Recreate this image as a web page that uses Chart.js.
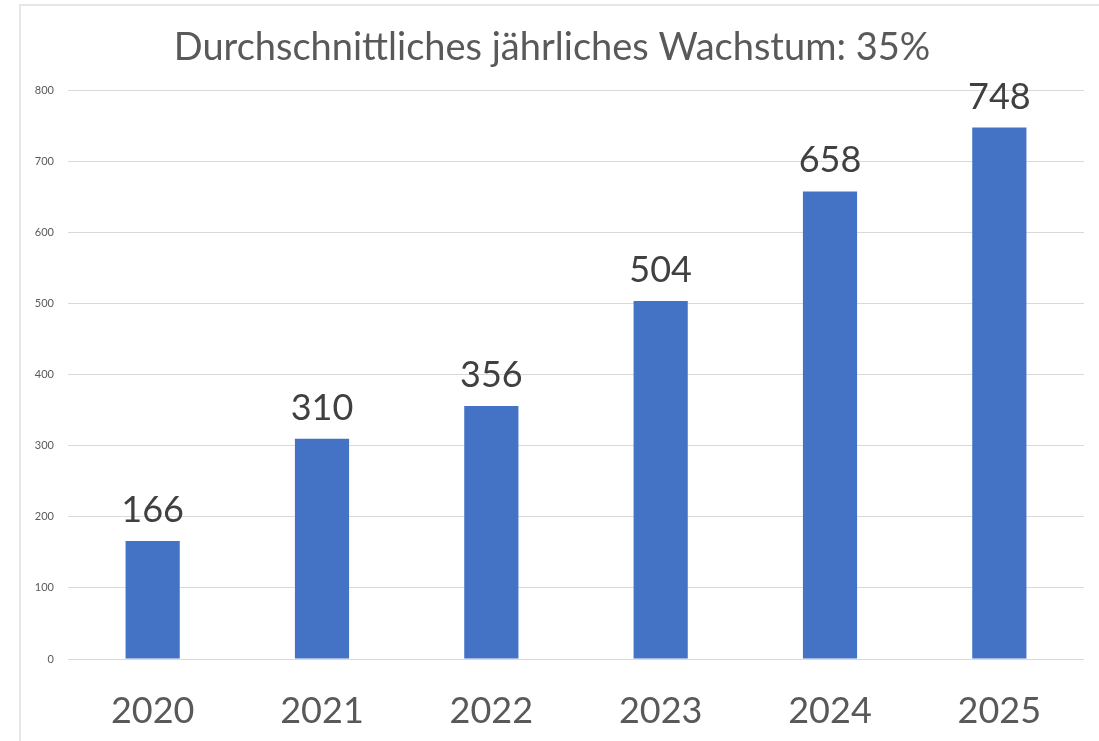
<!DOCTYPE html>
<html>
<head>
<meta charset="utf-8">
<script src="https://cdn.jsdelivr.net/npm/chart.js@4.4.1/dist/chart.umd.min.js"></script>
<style>
    html, body { margin: 0; padding: 0; background: #ffffff; }
    #wrap { position: relative; width: 1099px; height: 741px; overflow: hidden; }
    #frame {
        position: absolute; left: 19px; top: 4px; width: 1090px; height: 760px;
        border: 2px solid #e6e6e6; box-sizing: border-box;
    }
    canvas { position: absolute; left: 0; top: 0; }
</style>
</head>
<body>
<div id="wrap">
    <div id="frame"></div>
    <canvas id="myBarChart" width="1099" height="741"></canvas>
</div>
<script>
// Daten
const titleText = 'Durchschnittliches jährliches Wachstum: 35%';
const years = ['2020', '2021', '2022', '2023', '2024', '2025'];
const values = [166, 310, 356, 504, 658, 748];
const yTicks = [0, 100, 200, 300, 400, 500, 600, 700, 800];

const fontFamily = 'Lato, "Open Sans", sans-serif';

// Werte über den Balken schreiben
const valueLabels = {
    id: 'valueLabels',
    afterDatasetsDraw(chart) {
        const ctx = chart.ctx;
        const meta = chart.getDatasetMeta(0);
        ctx.save();
        ctx.font = '36px ' + fontFamily;
        ctx.fillStyle = '#404040';
        ctx.textAlign = 'center';
        ctx.textBaseline = 'alphabetic';
        meta.data.forEach((bar, i) => {
            ctx.fillText(String(values[i]), bar.x, bar.y - 19);
        });
        ctx.restore();
    }
};

const ctxBar = document.getElementById('myBarChart').getContext('2d');
let myBarChart = new Chart(ctxBar, {
    type: 'bar',
    data: {
        labels: years,
        datasets: [{
            label: 'Wachstum',
            data: values,
            backgroundColor: '#4472C4',
            borderWidth: 0,
            barPercentage: 0.32,
            categoryPercentage: 1
        }]
    },
    options: {
        responsive: false,
        animation: false,
        layout: {
            padding: { left: 20, right: 15, top: 0, bottom: 8 }
        },
        scales: {
            y: {
                min: 0,
                max: 800,
                afterBuildTicks: axis => {
                    axis.ticks = yTicks.map(v => ({ value: v }));
                },
                afterFit: axis => { axis.width = 48; },
                border: { display: false },
                grid: { color: '#d9d9d9', lineWidth: 1, drawTicks: false },
                ticks: {
                    color: '#595959',
                    padding: 14,
                    font: { family: fontFamily, size: 11 }
                }
            },
            x: {
                afterFit: axis => { axis.height = 74; },
                border: { display: false },
                grid: { display: false, drawTicks: false },
                ticks: {
                    color: '#595959',
                    padding: 31,
                    font: { family: fontFamily, size: 36 }
                }
            }
        },
        plugins: {
            legend: { display: false },
            tooltip: { enabled: false },
            title: {
                display: true,
                text: titleText,
                color: '#595959',
                font: { family: fontFamily, size: 38, weight: 'normal' },
                padding: { top: 25, bottom: 20 }
            }
        }
    },
    plugins: [valueLabels]
});
</script>
</body>
</html>
